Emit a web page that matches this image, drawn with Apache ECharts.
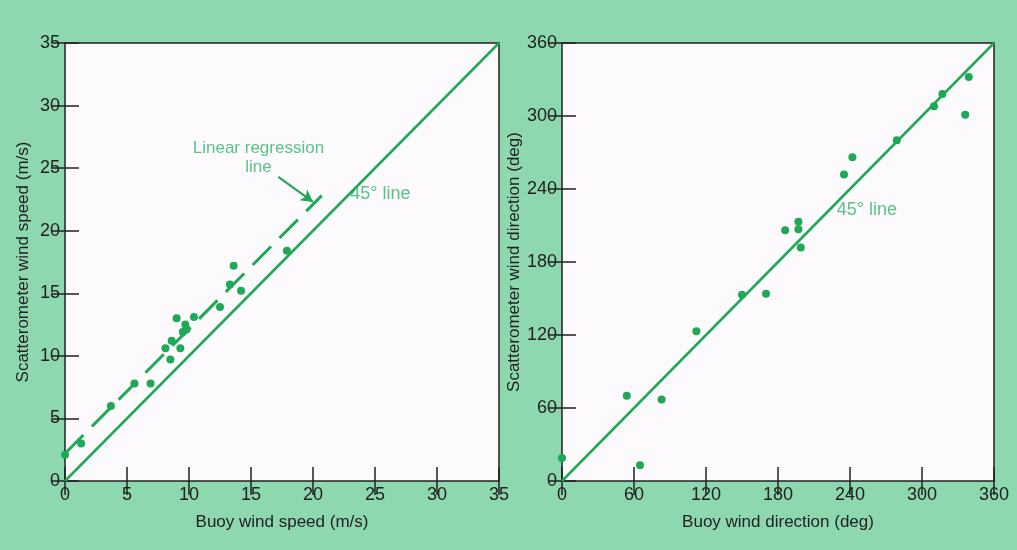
<!DOCTYPE html>
<html>
<head>
<meta charset="utf-8">
<script src="https://cdn.jsdelivr.net/npm/echarts@6/dist/echarts.min.js"></script>
<style>
  html, body { margin: 0; padding: 0; background: #8ed8b0; }
  #chart { width: 1017px; height: 550px; }
</style>
</head>
<body>
<div id="chart"></div>
<script>
// wind speed panel (m/s)
const speedBuoy = [0, 1.3, 3.7, 5.6, 6.9, 8.1, 8.5, 8.6, 9.0, 9.3, 9.5, 9.7, 9.8, 10.4, 12.5, 13.3, 13.6, 14.2, 17.9];
const speedScat = [2.1, 3.0, 6.0, 7.8, 7.8, 10.6, 9.7, 11.2, 13.0, 10.6, 11.9, 12.5, 12.1, 13.1, 13.9, 15.7, 17.2, 15.2, 18.4];
const speedTicks = [0, 5, 10, 15, 20, 25, 30, 35];
const regressionLine = [[0, 2.2], [20.7, 22.8]];
const speedDiagonal = [[0, 0], [35, 35]];

// wind direction panel (deg)
const dirBuoy = [0, 54, 65, 83, 112, 150, 170, 186, 197, 197, 199, 235, 242, 279, 310, 317, 339, 336];
const dirScat = [19, 70, 13, 67, 123, 153, 154, 206, 213, 207, 192, 252, 266, 280, 308, 318, 332, 301];
const dirTicks = [0, 60, 120, 180, 240, 300, 360];
const dirDiagonal = [[0, 0], [360, 360]];

// annotation anchors (data units)
const regressionNote = [15.6, 25.8];
const regressionArrow = [[17.2, 24.3], [20.0, 22.3]];
const speedLineNote = [23.0, 22.9];
const dirLineNote = [229, 223];

const green = '#1fa855';
const noteGreen = '#2fb46a';
const ink = '#222';

const chart = echarts.init(document.getElementById('chart'));

function pairs(xs, ys) {
  return xs.map((x, i) => [x, ys[i]]);
}

function valueAxis(gridIndex, position, ticks, name, nameGap, showLabel) {
  const axis = {
    type: 'value',
    gridIndex: gridIndex,
    position: position,
    min: ticks[0],
    max: ticks[ticks.length - 1],
    interval: ticks[1] - ticks[0],
    splitLine: {show: false},
    axisLine: {show: false},
    axisTick: {show: true, inside: true, length: 14, lineStyle: {color: ink, width: 1.5}},
    axisLabel: {show: showLabel, color: ink, fontSize: 18, fontFamily: 'Liberation Sans', margin: 5}
  };
  if (name) {
    axis.name = name;
    axis.nameLocation = 'middle';
    axis.nameGap = nameGap;
    axis.nameTextStyle = {color: ink, fontSize: 17, fontFamily: 'Liberation Sans'};
  }
  return axis;
}

function note(xAxisIndex, yAxisIndex, at, text, position, size) {
  return {
    type: 'scatter',
    xAxisIndex: xAxisIndex,
    yAxisIndex: yAxisIndex,
    symbolSize: 0,
    silent: true,
    data: [at],
    label: {
      show: true,
      position: position,
      distance: 0,
      formatter: text,
      color: noteGreen,
      fontSize: size,
      lineHeight: 19,
      align: position === 'right' ? 'left' : 'center',
      fontFamily: 'Liberation Sans'
    }
  };
}

const option = {
  backgroundColor: '#8ed8b0',
  animation: false,
  grid: [
    {left: 65, top: 43, width: 434, height: 438, show: true, backgroundColor: '#fdfafd', borderColor: ink, borderWidth: 1.5},
    {left: 562, top: 43, width: 432, height: 438, show: true, backgroundColor: '#fdfafd', borderColor: ink, borderWidth: 1.5}
  ],
  xAxis: [
    valueAxis(0, 'bottom', speedTicks, 'Buoy wind speed (m/s)', 33, true),
    valueAxis(0, 'top', speedTicks, null, 0, false),
    valueAxis(1, 'bottom', dirTicks, 'Buoy wind direction (deg)', 33, true),
    valueAxis(1, 'top', dirTicks, null, 0, false)
  ],
  yAxis: [
    valueAxis(0, 'left', speedTicks, 'Scatterometer wind speed (m/s)', 33, true),
    valueAxis(0, 'right', speedTicks, null, 0, false),
    valueAxis(1, 'left', dirTicks, 'Scatterometer wind direction (deg)', 39, true),
    valueAxis(1, 'right', dirTicks, null, 0, false)
  ],
  series: [
    {
      type: 'line',
      xAxisIndex: 0,
      yAxisIndex: 0,
      data: speedDiagonal,
      symbol: 'none',
      lineStyle: {color: green, width: 2.5}
    },
    {
      type: 'line',
      xAxisIndex: 0,
      yAxisIndex: 0,
      data: regressionLine,
      symbol: 'none',
      lineStyle: {color: green, width: 3, type: [26, 12]},
      markLine: {
        silent: true,
        symbol: ['none', 'arrow'],
        symbolSize: [10, 12],
        label: {show: false},
        lineStyle: {color: green, width: 2, type: 'solid'},
        data: [[{coord: regressionArrow[0]}, {coord: regressionArrow[1]}]]
      }
    },
    {
      type: 'scatter',
      xAxisIndex: 0,
      yAxisIndex: 0,
      data: pairs(speedBuoy, speedScat),
      symbolSize: 8,
      itemStyle: {color: green, opacity: 1}
    },
    note(0, 0, regressionNote, 'Linear regression\nline', 'inside', 17),
    note(0, 0, speedLineNote, '45\u00b0 line', 'right', 18),
    {
      type: 'line',
      xAxisIndex: 2,
      yAxisIndex: 2,
      data: dirDiagonal,
      symbol: 'none',
      lineStyle: {color: green, width: 2.5}
    },
    {
      type: 'scatter',
      xAxisIndex: 2,
      yAxisIndex: 2,
      data: pairs(dirBuoy, dirScat),
      symbolSize: 8,
      itemStyle: {color: green, opacity: 1}
    },
    note(2, 2, dirLineNote, '45\u00b0 line', 'right', 18)
  ]
};

chart.setOption(option);
</script>
</body>
</html>
